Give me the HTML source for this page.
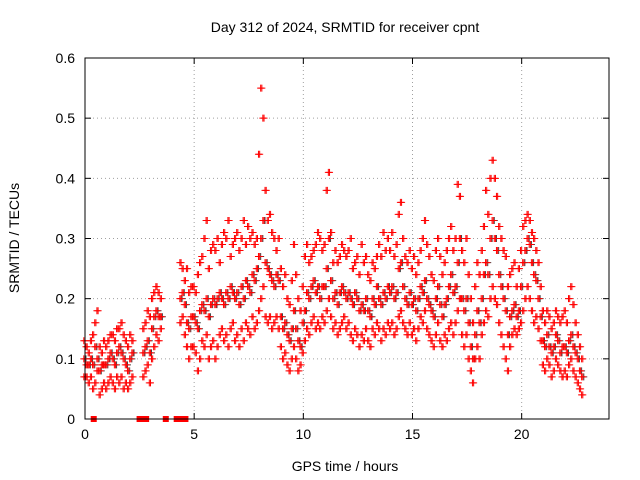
<!DOCTYPE html>
<html><head><meta charset="utf-8"><style>
body{margin:0;background:#fff}
svg{display:block;font-family:"Liberation Sans",sans-serif}
</style></head><body>
<svg id="chart" width="640" height="480" viewBox="0 0 640 480">
<rect width="640" height="480" fill="#fff"/>
<text x="345" y="32" font-size="14" text-anchor="middle">Day 312 of 2024, SRMTID for receiver cpnt</text>
<text x="345" y="471" font-size="14" text-anchor="middle">GPS time / hours</text>
<text transform="translate(19,238) rotate(-90)" font-size="14" text-anchor="middle">SRMTID / TECUs</text>
<g id="grid"></g><g id="ticks"></g><g id="marks"></g>
<rect x="85" y="58" width="524" height="361" fill="none" stroke="#000"/>
</svg>
<script>
const xTicks=[0,5,10,15,20];
const yTicks=[0,0.1,0.2,0.3,0.4,0.5,0.6];
const yTickLabels=["0","0.1","0.2","0.3","0.4","0.5","0.6"];
const t0=0, dt=0.1;
const N=null;
const lo=[.07,.07,.06,.07,.05,.06,.08,.04,.05,.06, .05,.06,.07,.06,.05,.07,.06,.07,.05,.06, .05,.06,.07,N,N,N,N,.07,.08,.09, .06,.10,.12,.14,.13,.15,N,N,N,N, N,N,N,N,.16,.17,.14,.12,.10,.12, .12,.11,.08,.10,.13,.12,.14,.10,.12,.13, .10,.12,.14,.15,.13,.14,.12,.15,.16,.13, .14,.12,.15,.13,.16,.15,.14,.17,.15,.16, .18,.20,.22,.17,.16,.17,.15,.16,.17,.15, .12,.10,.11,.09,.08,.10,.12,.10,.08,.09, .11,.13,.15,.14,.16,.17,.15,.16,.15,.17, .16,.18,.20,.17,.15,.16,.14,.15,.16,.17, .15,.16,.14,.13,.15,.14,.12,.14,.13,.15, .13,.12,.15,.14,.16,.15,.13,.15,.14,.16, .15,.16,.14,.15,.17,.18,.16,.15,.14,.16, .14,.15,.13,.15,.17,.16,.18,.15,.14,.13, .12,.14,.16,.13,.12,.14,.13,.15,.16,.14, .16,.18,.20,.14,.12,.14,.10,.08,.06,.10, .12,.10,.14,.16,.18,.17,.20,.22,.20,.19, .16,.14,.12,.10,.08,.12,.14,.15,.14,.15, .16,.18,.20,.22,.20,.18,.16,.17,.15,.13, .09,.08,.10,.09,.07,.08,.10,.09,.08,.07, .08,.07,.09,.10,.08,.07,.06,.05,.04];
const mid=[.10,.09,.09,.10,.09,.12,.10,.08,.09,.09, .09,.10,.11,.10,.09,.11,.12,.11,.10,.09, .08,.10,.11,N,N,N,N,.11,.12,.13, .11,.15,.17,.18,.17,.17,N,N,N,N, N,N,N,N,.20,.21,.19,.16,.15,.17, .17,.16,.15,.18,.19,.18,.20,.17,.19,.20, .19,.20,.21,.20,.19,.21,.20,.22,.21,.20, .21,.19,.22,.20,.23,.22,.21,.24,.23,.25, .27,.30,.33,.26,.25,.24,.23,.22,.24,.23, .17,.15,.16,.14,.13,.15,.18,.15,.13,.12, .16,.18,.21,.20,.22,.23,.21,.22,.20,.22, .22,.25,.30,.23,.20,.21,.19,.21,.22,.21, .20,.21,.20,.19,.21,.20,.18,.19,.18,.20, .18,.17,.20,.19,.22,.20,.19,.21,.20,.22, .21,.22,.20,.21,.25,.26,.22,.20,.19,.21, .19,.20,.18,.20,.22,.21,.23,.20,.19,.18, .17,.20,.22,.19,.17,.19,.20,.22,.24,.21, .22,.26,.30,.20,.18,.20,.16,.12,.10,.14, .18,.16,.20,.24,.26,.24,.30,.33,.30,.28, .24,.22,.20,.18,.14,.17,.18,.19,.17,.18, .22,.26,.28,.30,.29,.26,.24,.23,.20,.17, .13,.12,.14,.12,.11,.12,.14,.13,.11,.12, .12,.11,.13,.14,.12,.11,.10,.08,.07];
const hi=[.13,.12,.11,.13,.14,.16,.18,.12,.11,.13, .12,.13,.14,.14,.13,.15,.15,.16,.14,.13, .12,.14,.13,N,N,N,N,.15,.16,.18, .17,.20,.21,.22,.21,.20,N,N,N,N, N,N,N,N,.26,.25,.23,.25,.21,.22, .22,.21,.24,.26,.27,.30,.33,.25,.28,.29, .28,.30,.26,.29,.31,.30,.33,.27,.29,.30, .31,.28,.30,.33,.29,.32,.30,.31,.29,.30, .44,.55,.50,.38,.33,.34,.31,.30,.28,.30, .25,.22,.24,.20,.19,.23,.29,.24,.20,.18, .22,.27,.29,.26,.27,.28,.29,.31,.30,.28, .29,.38,.41,.31,.26,.28,.26,.27,.29,.28, .27,.28,.30,.25,.26,.27,.24,.29,.26,.27, .24,.23,.26,.25,.27,.29,.27,.31,.28,.30, .28,.31,.27,.29,.34,.36,.30,.27,.26,.28, .25,.27,.24,.26,.28,.30,.33,.29,.27,.24, .23,.28,.30,.27,.24,.26,.28,.30,.32,.28, .30,.39,.37,.28,.26,.30,.24,.20,.16,.22, .26,.24,.28,.32,.38,.34,.40,.43,.40,.37, .32,.30,.28,.27,.22,.24,.25,.26,.22,.25, .28,.32,.33,.34,.33,.31,.30,.28,.26,.22, .18,.16,.18,.17,.15,.16,.18,.17,.16,.17, .18,.16,.20,.22,.19,.16,.14,.12,.10];
const zeroFlags=[0.4,2.5,2.6,2.7,2.8,3.7,4.2,4.3,4.4,4.6];

const X0=85,X1=609,Y0=419,Y1=58;
const xs=v=>X0+v/24*(X1-X0);
const ys=v=>Y0-v/0.6*(Y0-Y1);
const NS="http://www.w3.org/2000/svg";
function mk(tag,attrs,parent){const e=document.createElementNS(NS,tag);for(const k in attrs)e.setAttribute(k,attrs[k]);parent.appendChild(e);return e;}
const grid=document.getElementById('grid'),ticks=document.getElementById('ticks'),marks=document.getElementById('marks');
xTicks.forEach(v=>{const x=xs(v);
 if(v>0){const g=mk('line',{x1:x,y1:Y0,x2:x,y2:Y1,stroke:'#a0a0a0','stroke-dasharray':'1,3'},grid);
 
 }
 mk('line',{x1:x,y1:Y0,x2:x,y2:Y0-6,stroke:'#000'},ticks);mk('line',{x1:x,y1:Y1,x2:x,y2:Y1+6,stroke:'#000'},ticks);
 const t=mk('text',{x:x,y:Y0+20,'font-size':14,'text-anchor':'middle'},ticks);t.textContent=v;
 
 
});
yTicks.forEach((v,i)=>{const y=ys(v);
 if(v>0&&v<0.6){const g=mk('line',{x1:X0,y1:y,x2:X1,y2:y,stroke:'#a0a0a0','stroke-dasharray':'1,3'},grid);
 
 }
 mk('line',{x1:X0,y1:y,x2:X0+6,y2:y,stroke:'#000'},ticks);mk('line',{x1:X1,y1:y,x2:X1-6,y2:y,stroke:'#000'},ticks);
 const t=mk('text',{x:X0-10,y:y+5,'font-size':14,'text-anchor':'end'},ticks);t.textContent=yTickLabels[i];
 
 
});
function cross(t,v,col,dx){const x=xs(t)+dx,y=ys(v);
 const p=mk('path',{d:`M${x-3.5},${y}h7M${x},${y-3.5}v7`,stroke:col,'stroke-width':1},marks);
 
 
}
mid.forEach((v,i)=>{if(v!==null)cross(t0+i*dt,v,'#444',1);});
[lo,mid,hi].forEach(arr=>arr.forEach((v,i)=>{if(v!==null){cross(t0+i*dt,v,'#f00',0);cross(t0+i*dt,v,'#f00',-1.2);}}));
zeroFlags.forEach(t=>{
 const r=mk('rect',{x:xs(t)-3,y:Y0-3,width:6,height:6,fill:'#f00'},marks);
 
 
});
</script>
</body></html>
